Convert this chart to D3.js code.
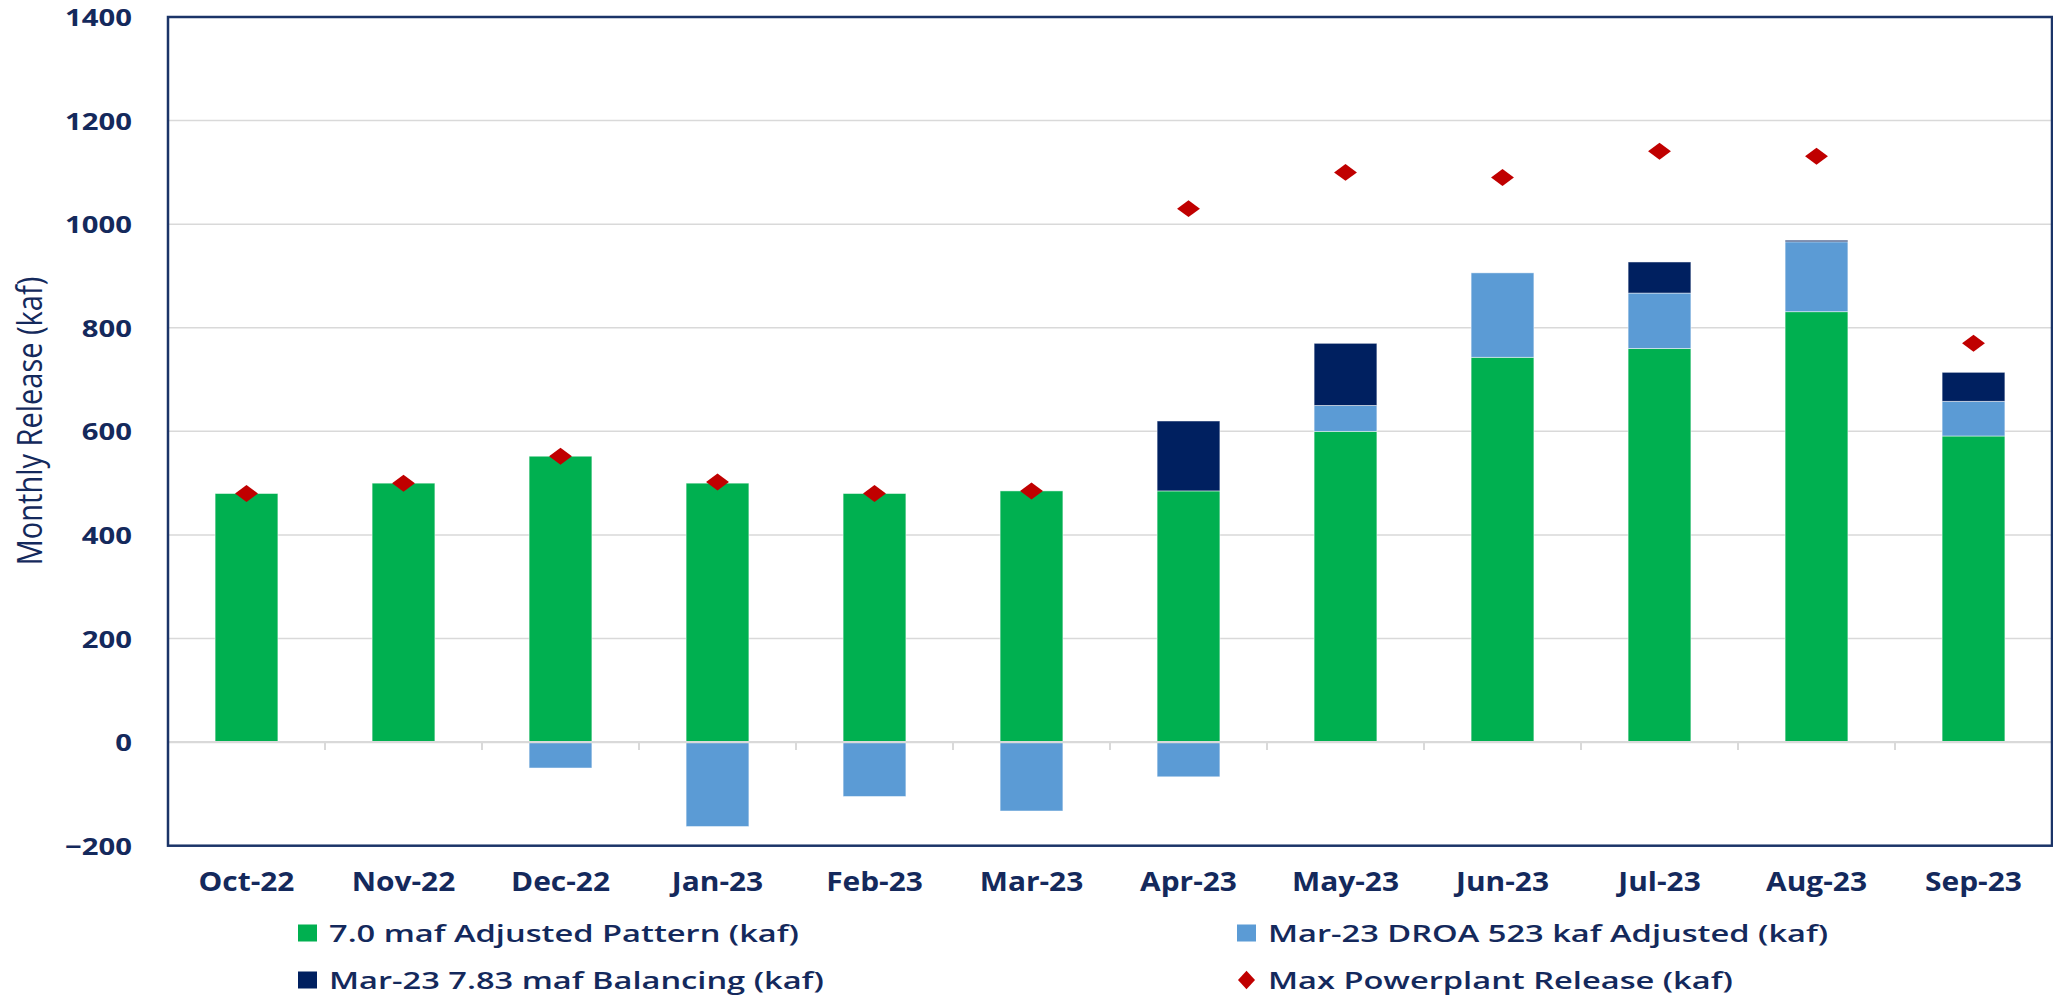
<!DOCTYPE html>
<html>
<head>
<meta charset="utf-8">
<script src="https://cdn.jsdelivr.net/npm/d3@7"></script>
<style>
  body { margin: 0; background: #fff; }
  text { font-family: "Open Sans", "Noto Sans", sans-serif; fill: #14295c; }
</style>
</head>
<body>
<div id="chart"></div>
<script>
const months = ["Oct-22", "Nov-22", "Dec-22", "Jan-23", "Feb-23", "Mar-23",
  "Apr-23", "May-23", "Jun-23", "Jul-23", "Aug-23", "Sep-23"];

const adjustedPattern = [480, 500, 552, 500, 480, 485, 485, 600, 743, 760, 831, 591];
const droaAdjusted = [0, 0, -50, -163, -105, -133, -67, 50, 163, 107, 135, 67];
const balancing = [0, 0, 0, 0, 0, 0, 135, 120, 0, 60, 3, 56];
const maxPowerplant = [480, 500, 552, 502, 480, 485, 1030, 1100, 1090, 1141, 1131, 770];

const yTicks = [-200, 0, 200, 400, 600, 800, 1000, 1200, 1400];

const seriesNames = {
  pattern: "7.0 maf Adjusted Pattern (kaf)",
  droa: "Mar-23 DROA 523 kaf Adjusted (kaf)",
  balancing: "Mar-23 7.83 maf Balancing (kaf)",
  max: "Max Powerplant Release (kaf)"
};

const colors = {
  pattern: "#00b050",
  droa: "#5b9bd5",
  balancing: "#002060",
  max: "#c00000",
  grid: "#d9d9d9",
  frame: "#1b3468"
};

const width = 2053, height = 996;
const plot = { left: 168, right: 2052, top: 17, bottom: 845.7 };

const svg = d3.select("#chart").append("svg")
  .attr("width", width)
  .attr("height", height);

const x = d3.scaleBand()
  .domain(months)
  .range([plot.left, plot.right])
  .paddingInner(0.6)
  .paddingOuter(0.3);

const y = d3.scaleLinear()
  .domain([-200, 1400])
  .range([plot.bottom, plot.top]);

// gridlines
svg.append("g")
  .selectAll("line")
  .data(yTicks.filter(d => d > -200 && d < 1400 && d !== 0))
  .join("line")
  .attr("x1", plot.left)
  .attr("x2", plot.right)
  .attr("y1", d => y(d))
  .attr("y2", d => y(d))
  .attr("stroke", colors.grid)
  .attr("stroke-width", 1.5);

// stacked bars (diverging so the negative DROA part hangs under zero)
const rows = months.map((m, i) => ({
  month: m,
  pattern: adjustedPattern[i],
  droa: droaAdjusted[i],
  balancing: balancing[i]
}));

const stack = d3.stack()
  .keys(["pattern", "droa", "balancing"])
  .offset(d3.stackOffsetDiverging);

const layers = stack(rows);

svg.append("g")
  .selectAll("g")
  .data(layers)
  .join("g")
  .attr("fill", d => colors[d.key])
  .selectAll("rect")
  .data(d => d.filter(p => p[1] !== p[0]))
  .join("rect")
  .attr("x", d => x(d.data.month))
  .attr("width", x.bandwidth())
  .attr("y", d => y(Math.max(d[0], d[1])))
  .attr("height", d => Math.abs(y(d[0]) - y(d[1])))
  .attr("stroke", "#ffffff")
  .attr("stroke-opacity", 0.6)
  .attr("stroke-width", 0.8);

// zero line and category tick marks
const step = x.step();
svg.append("line")
  .attr("x1", plot.left)
  .attr("x2", plot.right)
  .attr("y1", y(0))
  .attr("y2", y(0))
  .attr("stroke", colors.grid)
  .attr("stroke-width", 2.2);

svg.append("g")
  .selectAll("line")
  .data(months.slice(1))
  .join("line")
  .attr("x1", d => x(d) + x.bandwidth() / 2 - step / 2)
  .attr("x2", d => x(d) + x.bandwidth() / 2 - step / 2)
  .attr("y1", y(0))
  .attr("y2", y(0) + 8)
  .attr("stroke", colors.grid)
  .attr("stroke-width", 2);

// max powerplant diamonds
const diamond = d3.symbol().type(d3.symbolSquare).size(144);
svg.append("g")
  .selectAll("path")
  .data(maxPowerplant)
  .join("path")
  .attr("d", diamond)
  .attr("fill", colors.max)
  .attr("transform", (d, i) =>
    `translate(${x(months[i]) + x.bandwidth() / 2},${y(d)}) scale(1.35,1) rotate(45)`);

// frame
svg.append("rect")
  .attr("x", plot.left)
  .attr("y", plot.top)
  .attr("width", plot.right - plot.left)
  .attr("height", plot.bottom - plot.top)
  .attr("fill", "none")
  .attr("stroke", colors.frame)
  .attr("stroke-width", 2.5);

// y axis
const yAxis = svg.append("g")
  .attr("transform", `translate(${plot.left},0)`)
  .call(d3.axisLeft(y).tickValues(yTicks).tickSize(0).tickFormat(d3.format("d")));
yAxis.select(".domain").remove();
yAxis.selectAll("text")
  .attr("x", -29.5)
  .attr("dy", "0.36em")
  .attr("transform", "scale(1.22,1)")
  .style("font-size", "24px")
  .style("font-weight", "bold")
  .style("fill", "#14295c");

// x axis
const xAxis = svg.append("g")
  .attr("transform", `translate(0,${plot.bottom})`)
  .call(d3.axisBottom(x).tickSize(0));
xAxis.select(".domain").remove();
xAxis.selectAll("text")
  .attr("y", 45)
  .attr("dy", 0)
  .attr("transform", "scale(1.15,1)")
  .style("font-size", "26px")
  .style("font-weight", "bold")
  .style("fill", "#14295c");

// y axis title
svg.append("text")
  .attr("transform", "translate(42,421) scale(1.22,1) rotate(-90)")
  .attr("text-anchor", "middle")
  .style("font-size", "29px")
  .text("Monthly Release (kaf)");

// legend
const legendItems = [
  { key: "pattern", x: 298, y: 933 },
  { key: "droa", x: 1237, y: 933 },
  { key: "balancing", x: 298, y: 980 },
  { key: "max", x: 1237, y: 980 }
];

const legend = svg.append("g")
  .selectAll("g")
  .data(legendItems)
  .join("g")
  .attr("transform", d => `translate(${d.x},${d.y})`);

legend.filter(d => d.key !== "max")
  .append("rect")
  .attr("x", 0)
  .attr("y", -8.5)
  .attr("width", 19)
  .attr("height", 17)
  .attr("fill", d => colors[d.key]);

legend.filter(d => d.key === "max")
  .append("path")
  .attr("d", d3.symbol().type(d3.symbolSquare).size(120))
  .attr("fill", colors.max)
  .attr("transform", "translate(9.5,0) scale(1.1,1.2) rotate(45)");

legend.append("text")
  .attr("x", 31 / 1.36)
  .attr("dy", "0.36em")
  .attr("transform", "scale(1.36,1)")
  .style("font-size", "24px")
  .style("font-weight", 600)
  .text(d => seriesNames[d.key]);
</script>
</body>
</html>
